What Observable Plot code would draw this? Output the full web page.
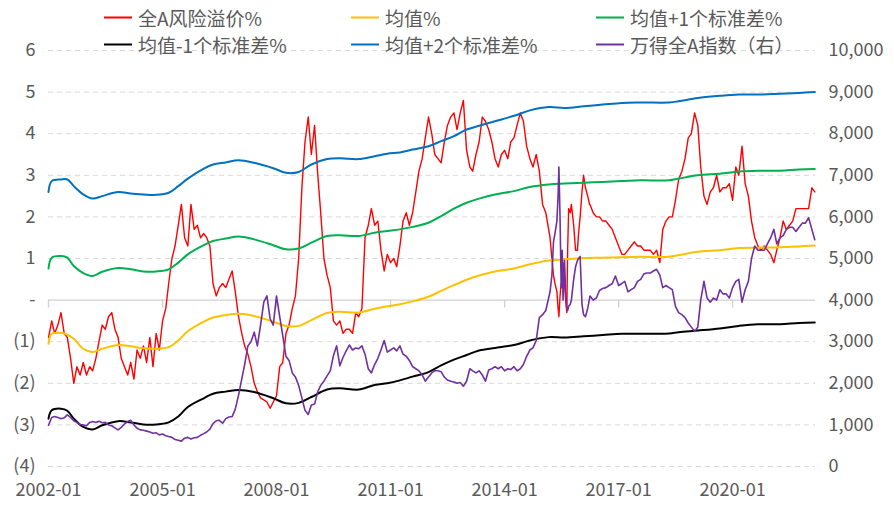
<!DOCTYPE html>
<html><head><meta charset="utf-8">
<script src="https://cdn.jsdelivr.net/npm/d3@7"></script>
<script src="https://cdn.jsdelivr.net/npm/@observablehq/plot@0.6"></script>
<style>
body{margin:0;background:#fff;}
#wrap{position:relative;width:894px;height:510px;font-family:"Noto Sans CJK SC","Noto Sans",sans-serif;}
#chart{position:absolute;left:0;top:0;}
#legend .item{position:absolute;display:flex;align-items:center;transform:translateY(-50%);font-size:19px;color:#595959;white-space:nowrap;line-height:1;}
#legend .sw{display:inline-block;width:28px;height:2px;margin-right:6px;}
</style></head>
<body><div id="wrap"><div id="chart"></div><div id="legend"></div></div>
<script>
// ---------- data ----------
const startMonth = "2002-01";
// 全A风险溢价% (monthly, 2002-01 .. 2022-03)
const riskPremium = [
-0.9,-0.5,-0.8,-0.6,-0.3,-0.8,-0.9,-1.4,-2.0,-1.6,-1.8,-1.5,
-1.8,-1.6,-1.7,-1.4,-1.0,-0.6,-0.7,-0.4,-0.3,-0.7,-0.9,-1.4,
-1.6,-1.8,-1.5,-1.9,-1.2,-1.4,-1.1,-1.5,-0.9,-1.6,-0.8,-1.2,
-0.5,-0.2,0.4,1.0,1.3,1.8,2.3,1.5,1.3,2.3,1.7,1.8,
1.5,1.6,1.5,1.3,0.4,0.1,0.3,0.4,0.3,0.5,0.7,0.2,
-0.4,-0.8,-1.1,-1.3,-1.6,-2.0,-2.2,-2.35,-2.4,-2.45,-2.6,-2.45,
-2.3,-1.6,-1.5,-0.8,-0.6,-0.2,0.1,1.0,2.7,3.8,4.4,3.5,
4.2,3.0,2.1,1.0,0.6,0.3,-0.5,-0.6,-0.5,-0.8,-0.7,-0.7,
-0.8,-0.3,-0.4,-0.2,1.5,1.8,2.2,1.8,1.9,1.2,0.7,1.1,
0.9,1.0,0.8,1.3,1.9,2.1,1.8,2.1,2.6,3.1,3.4,3.9,
4.4,4.0,3.5,3.4,3.3,3.8,4.2,4.4,4.5,4.1,4.5,4.8,
3.6,3.2,3.1,3.5,3.8,4.4,4.3,4.1,3.8,3.4,3.2,3.5,
3.6,3.4,3.8,3.9,4.2,4.5,4.3,3.7,3.4,3.2,3.5,3.1,
2.3,2.1,1.9,1.4,0.4,-0.3,0.3,0.2,1.8,2.2,1.5,1.2,
2.0,3.0,2.7,2.3,2.1,2.0,2.0,1.9,1.9,1.8,1.7,1.5,
1.3,1.1,1.1,1.2,1.3,1.4,1.3,1.3,1.2,1.2,1.2,1.1,
1.2,0.9,1.7,1.9,2.0,2.0,2.4,2.9,3.1,3.4,3.9,4.0,
4.5,4.2,3.2,2.5,2.3,2.6,2.7,3.0,2.6,2.7,2.7,2.8,
2.4,3.2,3.0,3.7,2.8,2.5,1.9,1.5,1.3,1.2,1.3,1.2,
1.1,0.9,1.2,1.5,1.9,1.7,1.8,1.9,2.2,2.2,2.2,2.2,
2.2,2.7,2.6];
// 万得全A指数 (monthly, right axis)
const windA = [
990,1180,1200,1180,1150,1170,1240,1180,1100,1060,1010,1000,
980,1060,1080,1060,1090,1050,1060,1000,980,930,880,940,
1020,1080,1110,1000,920,880,870,850,830,800,810,760,
780,740,720,700,650,630,610,680,700,660,690,700,
750,790,830,900,1030,1100,1110,1040,1150,1190,1200,1380,
1710,2100,2450,2900,3000,3230,2900,3400,3950,4100,3550,3400,
4100,3600,3150,2650,2550,2250,2150,1950,1650,1350,1250,1480,
1500,1800,1950,2050,2180,2300,2660,2900,2420,2620,2780,2920,
2800,2850,2830,2900,2700,2350,2250,2450,2600,2800,3030,2750,
2800,2850,2780,2900,2700,2650,2550,2400,2350,2300,2200,2050,
2150,2250,2300,2300,2280,2150,2080,2050,2030,2000,2020,1930,
2050,2350,2300,2250,2300,2200,2050,2320,2350,2400,2350,2400,
2300,2350,2330,2400,2300,2350,2450,2650,2800,2850,3030,3580,
3650,3750,4100,4600,5800,7200,4900,4000,3800,3950,4600,4950,
3800,3600,3700,4100,4000,4050,4230,4280,4300,4350,4400,4580,
4350,4400,4450,4200,4250,4300,4450,4500,4630,4650,4650,4700,
4740,4600,4300,4350,4300,4250,3850,3700,3650,3580,3450,3350,
3250,3350,4000,4450,4050,3950,4050,4000,4250,4150,4150,4050,
4300,4450,4500,3950,4250,4450,5000,5300,5200,5200,5200,5350,
5500,5700,5350,5500,5550,5700,5750,5750,5650,5750,5850,5850,
5980,5700,5450];
// finer readings around the 2015 swing (replace the monthly points in this window)
const fineFrom = "2015-03-01", fineTo = "2016-03-31";
const fineDates = ["2015-03-14","2015-04-01","2015-04-16","2015-04-30","2015-05-19","2015-05-30","2015-06-07","2015-06-18","2015-06-29","2015-07-09","2015-07-17","2015-07-31","2015-08-11","2015-08-22","2015-08-30","2015-09-09","2015-09-24","2015-10-05","2015-10-27","2015-11-14","2015-12-02","2015-12-13","2015-12-28","2016-01-15","2016-01-30","2016-02-17","2016-03-10","2016-03-28"];
const riskPremiumFine = [1.5,1.0,0.6,0.4,0.2,-0.2,-0.4,0.1,0.4,0.3,0.9,0.4,0.0,-0.3,1.2,2.2,2.1,2.3,1.8,1.2,1.2,1.6,2.0,2.6,3.0,2.7,2.5,2.3];
const windAFine = [4200,4600,5400,5600,5900,6500,7200,6000,4300,5200,4000,4950,4200,3800,3750,3850,3900,4000,4500,4800,4950,5000,5050,3900,3650,3600,3800,4050];
// rolling statistics
const statDates = ["2002-01","2002-02","2002-05","2002-07","2002-09","2002-12","2003-03","2003-06","2003-11","2004-03","2004-07","2004-11","2005-03","2005-06","2005-09","2006-02",
"2006-05","2006-09","2007-01","2007-06","2007-12","2008-04","2008-08","2008-12","2009-05","2009-09","2010-03",
"2010-08","2010-12","2011-04","2011-08","2012-01","2012-05","2012-09","2013-01","2013-05","2013-10","2014-04",
"2014-09","2015-03","2015-08","2016-02","2016-08","2017-02","2017-08","2018-05",
"2018-08","2019-02","2019-09","2020-03","2020-09","2021-04","2021-10","2022-03"];
const meanVals = [-1.05,-0.81,-0.79,-0.83,-0.93,-1.17,-1.25,-1.17,-1.08,-1.11,-1.16,-1.17,-1.13,-0.97,-0.75,-0.52,
-0.42,-0.36,-0.33,-0.38,-0.52,-0.62,-0.62,-0.48,-0.31,-0.28,-0.30,
-0.21,-0.15,-0.10,-0.03,0.08,0.22,0.36,0.49,0.59,0.69,0.76,
0.86,0.95,0.98,1.01,1.02,1.03,1.04,1.04,
1.08,1.16,1.20,1.25,1.26,1.27,1.29,1.31];
const plus1Vals = [0.76,1.02,1.06,1.02,0.82,0.65,0.58,0.68,0.77,0.74,0.69,0.69,0.74,0.90,1.10,1.32,
1.42,1.48,1.53,1.46,1.32,1.22,1.24,1.38,1.54,1.56,1.54,
1.62,1.66,1.70,1.76,1.86,2.02,2.20,2.34,2.44,2.54,2.62,
2.72,2.78,2.80,2.82,2.84,2.86,2.88,2.88,
2.92,3.00,3.04,3.09,3.11,3.11,3.14,3.15];
const minus1Vals = [-2.85,-2.65,-2.61,-2.66,-2.85,-3.05,-3.11,-3.01,-2.91,-2.94,-2.99,-2.99,-2.94,-2.80,-2.57,-2.36,
-2.25,-2.20,-2.16,-2.21,-2.36,-2.48,-2.47,-2.33,-2.15,-2.12,-2.15,
-2.04,-2.00,-1.93,-1.84,-1.73,-1.57,-1.43,-1.32,-1.21,-1.15,-1.08,
-0.97,-0.89,-0.90,-0.87,-0.84,-0.81,-0.81,-0.80,
-0.77,-0.73,-0.68,-0.62,-0.58,-0.58,-0.55,-0.54];
const plus2Vals = [2.60,2.86,2.90,2.90,2.74,2.54,2.44,2.50,2.60,2.56,2.54,2.53,2.58,2.74,2.92,3.16,
3.26,3.31,3.36,3.30,3.17,3.06,3.08,3.26,3.39,3.41,3.39,
3.46,3.52,3.55,3.62,3.70,3.82,3.94,4.10,4.19,4.30,4.43,
4.56,4.64,4.62,4.66,4.70,4.74,4.75,4.75,
4.78,4.86,4.91,4.94,4.94,4.96,4.98,5.00];
// axes
const leftTicks = [-4,-3,-2,-1,0,1,2,3,4,5,6];
const rightTickLabels = [0,1000,2000,3000,4000,5000,6000,7000,8000,9000,10000];
const xTickLabels = ["2002-01","2005-01","2008-01","2011-01","2014-01","2017-01","2020-01"];
const xEnd = "2022-03-08";
const seriesNames = ["全A风险溢价%","均值%","均值+1个标准差%","均值-1个标准差%","均值+2个标准差%","万得全A指数（右）"];
const seriesColors = ["#FF0000","#FFC000","#00B050","#000000","#0070C0","#7030A0"];

// ---------- build ----------
const pM = d3.utcParse("%Y-%m"), pD = d3.utcParse("%Y-%m-%d");
const t0 = pM(startMonth);
const months = d3.utcMonth.range(t0, d3.utcMonth.offset(t0, riskPremium.length));
const f0 = pD(fineFrom), f1 = pD(fineTo);
function merged(monthly, fine) {
  return months.map((date, i) => ({date, v: monthly[i]}))
    .filter(d => d.date < f0 || d.date > f1)
    .concat(fineDates.map((s, i) => ({date: pD(s), v: fine[i]})))
    .sort((a, b) => a.date - b.date);
}
const redRows = merged(riskPremium, riskPremiumFine);
const purpleRows = merged(windA, windAFine);
const stat = (vals) => statDates.map((s, i) => ({date: pM(s), v: vals[i]}));
// right axis (0..10000) mapped onto left axis (-4..6)
const toLeft = (r) => r / 1000 - 4;
const xTicks = xTickLabels.map(pM);

const chart = Plot.plot({
  width: 894, height: 510,
  marginLeft: 48, marginRight: 79, marginTop: 50, marginBottom: 44,
  style: {fontFamily: "'Noto Sans CJK SC','Noto Sans',sans-serif", fontSize: "18px", color: "#595959", background: "transparent"},
  x: {type: "utc", domain: [t0, pD(xEnd)]},
  y: {domain: [-4, 6]},
  marks: [
    Plot.ruleY(leftTicks.filter(d => d !== 0), {stroke: "#d9d9d9", strokeDasharray: "5,4", strokeWidth: 1}),
    Plot.ruleY([0], {stroke: "#d0d0d0", strokeWidth: 1.3}),
    Plot.ruleX(xTicks, {x: d => d, y1: 0, y2: -0.19, stroke: "#d0d0d0", strokeWidth: 1.3}),
    Plot.lineY(redRows, {x: "date", y: "v", stroke: seriesColors[0], strokeWidth: 1.4}),
    Plot.lineY(stat(meanVals), {x: "date", y: "v", stroke: seriesColors[1], strokeWidth: 2, curve: "catmull-rom"}),
    Plot.lineY(stat(plus1Vals), {x: "date", y: "v", stroke: seriesColors[2], strokeWidth: 2, curve: "catmull-rom"}),
    Plot.lineY(stat(minus1Vals), {x: "date", y: "v", stroke: seriesColors[3], strokeWidth: 2, curve: "catmull-rom"}),
    Plot.lineY(stat(plus2Vals), {x: "date", y: "v", stroke: seriesColors[4], strokeWidth: 2, curve: "catmull-rom"}),
    Plot.lineY(purpleRows, {x: "date", y: d => toLeft(d.v), stroke: seriesColors[5], strokeWidth: 1.6}),
    Plot.axisY(leftTicks, {anchor: "left", label: null, tickSize: 0, tickPadding: 13, fontSize: 18, fill: "#595959",
      tickFormat: d => d < 0 ? `(${-d})` : d === 0 ? "-" : `${d}`}),
    Plot.axisY(rightTickLabels.map(toLeft), {anchor: "right", label: null, tickSize: 0, tickPadding: 13, fontSize: 18, fill: "#595959",
      tickFormat: d => d3.format(",")(Math.round((d + 4) * 1000))}),
    Plot.axisX(xTicks, {anchor: "bottom", label: null, tickSize: 0, tickPadding: 17, fontSize: 18, fill: "#595959",
      tickFormat: d3.utcFormat("%Y-%m")})
  ]
});
document.getElementById("chart").appendChild(chart);

// legend
const legend = document.getElementById("legend");
const legX = [104, 351, 596], legY = [17, 44];
seriesNames.forEach((name, i) => {
  const it = document.createElement("div");
  it.className = "item";
  it.style.left = legX[i % 3] + "px";
  it.style.top = legY[Math.floor(i / 3)] + "px";
  it.innerHTML = `<span class="sw" style="background:${seriesColors[i]}"></span><span>${name}</span>`;
  legend.appendChild(it);
});
</script></body></html>
